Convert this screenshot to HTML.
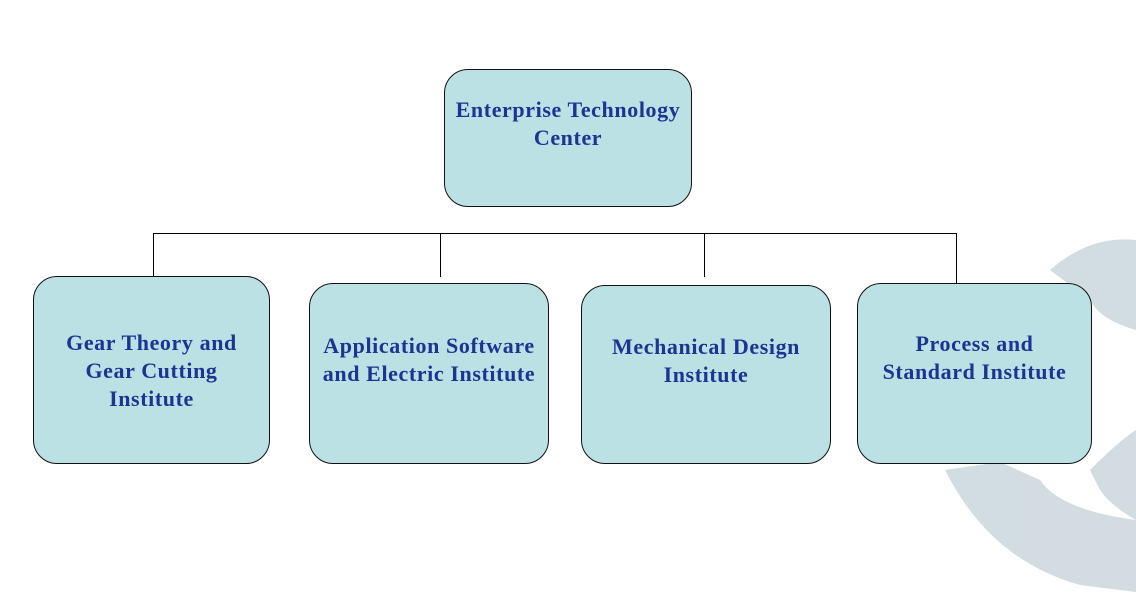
<!DOCTYPE html>
<html><head><style>
body{margin:0;width:1136px;height:596px;background:#fff;overflow:hidden;position:relative;font-family:"Liberation Serif",serif}
.b{position:absolute;box-sizing:border-box;background:#bce1e4;border:1px solid #111;border-radius:24px;display:flex;align-items:center;justify-content:center;text-align:center;color:#1b3592;font-weight:bold;font-size:22px;letter-spacing:0.6px;line-height:28px;white-space:nowrap}
.l{position:absolute;background:#000}
</style></head><body>
<svg style="position:absolute;left:0;top:0" width="1136" height="596">
<g fill="#c3d1d8" opacity="0.75">
<path d="M1050 270 Q1090 235 1136 240 L1136 330 Q1100 320 1090 300 Z"/>
<path d="M945 470 Q990 560 1080 585 L1136 592 L1136 520 Q1060 510 1040 480 L1000 462 Z"/>
<path d="M1090 470 Q1120 440 1136 430 L1136 520 Q1110 505 1100 490 Z"/>
</g>
</svg>
<div class="l" style="left:153px;top:233px;width:804px;height:1px"></div>
<div class="l" style="left:153px;top:233px;width:1px;height:44px"></div>
<div class="l" style="left:440px;top:233px;width:1px;height:44px"></div>
<div class="l" style="left:704px;top:233px;width:1px;height:44px"></div>
<div class="l" style="left:956px;top:233px;width:1px;height:51px"></div>
<div class="b" style="left:444px;top:69px;width:248px;height:138px;padding-bottom:28px">Enterprise Technology<br>Center</div>
<div class="b" style="left:33px;top:276px;width:237px;height:188px;padding-top:2px">Gear Theory and<br>Gear Cutting<br>Institute</div>
<div class="b" style="left:309px;top:283px;width:240px;height:181px;padding-bottom:28px">Application Software<br>and Electric Institute</div>
<div class="b" style="left:581px;top:285px;width:250px;height:179px;padding-bottom:28px">Mechanical Design<br>Institute</div>
<div class="b" style="left:857px;top:283px;width:235px;height:181px;padding-bottom:32px">Process and<br>Standard Institute</div>
</body></html>
